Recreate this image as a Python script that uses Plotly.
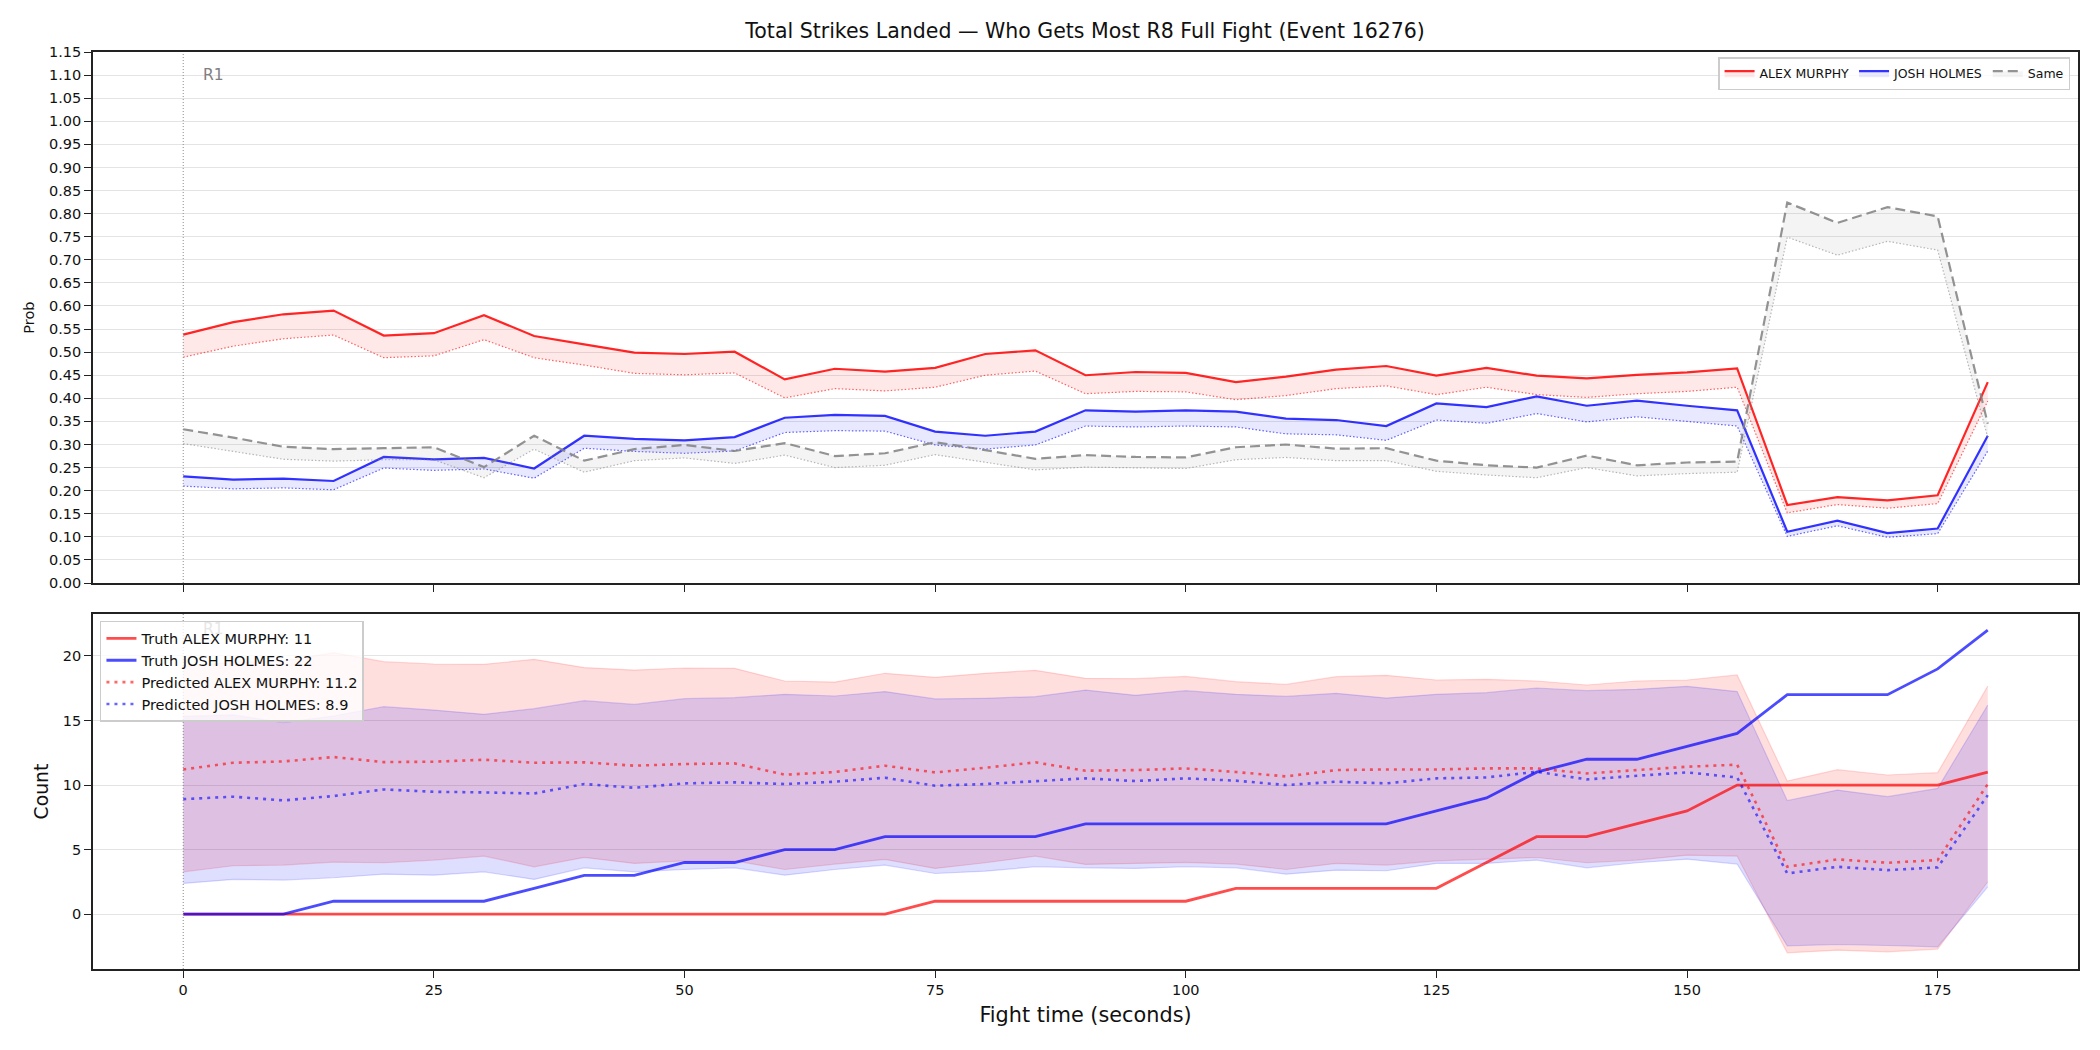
import plotly.graph_objects as go

# ---------------- data ----------------
fight_time = [0, 5, 10, 15, 20, 25, 30, 35, 40, 45, 50, 55, 60, 65, 70, 75, 80, 85, 90,
              95, 100, 105, 110, 115, 120, 125, 130, 135, 140, 145, 150, 155, 160, 165,
              170, 175, 180]

alex_prob = [0.538, 0.565, 0.582, 0.590, 0.536, 0.541, 0.580, 0.535, 0.517, 0.499, 0.496,
             0.501, 0.441, 0.464, 0.458, 0.466, 0.496, 0.504, 0.450, 0.457, 0.455, 0.435,
             0.447, 0.462, 0.470, 0.449, 0.466, 0.449, 0.443, 0.451, 0.456, 0.465, 0.169,
             0.186, 0.179, 0.190, 0.435]
alex_norm = [0.489, 0.513, 0.529, 0.537, 0.488, 0.492, 0.527, 0.488, 0.472, 0.454, 0.451,
             0.455, 0.401, 0.421, 0.416, 0.424, 0.450, 0.459, 0.410, 0.415, 0.414, 0.397,
             0.406, 0.421, 0.427, 0.408, 0.424, 0.408, 0.402, 0.410, 0.415, 0.424, 0.152,
             0.170, 0.162, 0.172, 0.394]
josh_prob = [0.231, 0.224, 0.226, 0.221, 0.273, 0.268, 0.271, 0.248, 0.319, 0.312, 0.309,
             0.316, 0.358, 0.364, 0.362, 0.328, 0.319, 0.328, 0.374, 0.371, 0.374, 0.371,
             0.356, 0.353, 0.340, 0.389, 0.381, 0.404, 0.384, 0.395, 0.384, 0.374, 0.111,
             0.135, 0.108, 0.118, 0.319]
josh_norm = [0.210, 0.204, 0.206, 0.202, 0.249, 0.244, 0.247, 0.227, 0.292, 0.285, 0.281,
             0.286, 0.326, 0.330, 0.329, 0.299, 0.290, 0.299, 0.340, 0.338, 0.340, 0.338,
             0.323, 0.321, 0.309, 0.353, 0.346, 0.367, 0.349, 0.360, 0.350, 0.340, 0.101,
             0.124, 0.099, 0.107, 0.286]
same_prob = [0.333, 0.315, 0.295, 0.290, 0.292, 0.294, 0.251, 0.319, 0.265, 0.290, 0.299,
             0.286, 0.303, 0.275, 0.281, 0.305, 0.288, 0.269, 0.277, 0.273, 0.272, 0.294,
             0.300, 0.291, 0.292, 0.265, 0.255, 0.250, 0.276, 0.255, 0.261, 0.263, 0.824,
             0.780, 0.814, 0.794, 0.345]
same_norm = [0.302, 0.285, 0.268, 0.264, 0.267, 0.267, 0.228, 0.290, 0.240, 0.265, 0.271,
             0.259, 0.277, 0.250, 0.255, 0.278, 0.261, 0.245, 0.251, 0.249, 0.248, 0.267,
             0.272, 0.265, 0.265, 0.242, 0.234, 0.228, 0.250, 0.232, 0.237, 0.240, 0.749,
             0.710, 0.740, 0.721, 0.315]

truth_alex = [0, 0, 0, 0, 0, 0, 0, 0, 0, 0, 0, 0, 0, 0, 0, 1, 1, 1, 1, 1, 1, 2, 2, 2, 2,
              2, 4, 6, 6, 7, 8, 10, 10, 10, 10, 10, 11]
truth_josh = [0, 0, 0, 1, 1, 1, 1, 2, 3, 3, 4, 4, 5, 5, 6, 6, 6, 6, 7, 7, 7, 7, 7, 7, 7,
              8, 9, 11, 12, 12, 13, 14, 17, 17, 17, 19, 22]
pred_alex = [11.21, 11.73, 11.83, 12.17, 11.78, 11.81, 11.96, 11.73, 11.76, 11.50, 11.63,
             11.68, 10.80, 11.01, 11.50, 10.98, 11.34, 11.76, 11.11, 11.16, 11.29, 11.01,
             10.67, 11.16, 11.21, 11.21, 11.29, 11.29, 10.90, 11.16, 11.42, 11.58, 3.67,
             4.24, 3.98, 4.19, 10.08]
pred_josh = [8.91, 9.10, 8.81, 9.15, 9.66, 9.48, 9.43, 9.35, 10.08, 9.79, 10.13, 10.21,
             10.08, 10.26, 10.57, 9.95, 10.08, 10.31, 10.52, 10.31, 10.52, 10.34, 10.00,
             10.26, 10.13, 10.52, 10.59, 11.03, 10.44, 10.72, 10.98, 10.59, 3.15, 3.67,
             3.41, 3.62, 9.22]
alex_lo = [3.28, 3.75, 3.80, 4.03, 3.98, 4.19, 4.50, 3.67, 4.39, 3.93, 4.13, 4.13, 3.46,
           3.88, 4.24, 3.54, 3.98, 4.50, 3.85, 3.93, 4.01, 3.88, 3.46, 3.93, 3.80, 4.13,
           4.24, 4.39, 3.98, 4.19, 4.57, 4.50, -3.00, -2.79, -2.92, -2.71, 2.51]
alex_hi = [19.2, 19.5, 19.6, 20.26, 19.56, 19.38, 19.35, 19.74, 19.10, 18.91, 19.07, 19.04,
           18.06, 17.98, 18.66, 18.35, 18.66, 18.89, 18.27, 18.24, 18.42, 18.01, 17.80,
           18.40, 18.50, 18.14, 18.19, 18.06, 17.75, 18.06, 18.14, 18.53, 10.31, 11.19,
           10.78, 10.96, 17.67]
josh_lo = [2.38, 2.69, 2.64, 2.82, 3.10, 3.02, 3.28, 2.69, 3.59, 3.28, 3.46, 3.59, 3.02,
           3.46, 3.80, 3.15, 3.33, 3.67, 3.59, 3.54, 3.67, 3.59, 3.10, 3.41, 3.36, 3.93,
           3.93, 4.19, 3.59, 3.98, 4.26, 3.88, -2.45, -2.35, -2.43, -2.53, 2.12]
josh_hi = [15.32, 15.43, 14.83, 15.35, 16.07, 15.81, 15.48, 15.92, 16.54, 16.25, 16.69,
           16.77, 17.03, 16.90, 17.24, 16.67, 16.72, 16.85, 17.36, 16.95, 17.31, 17.03,
           16.87, 17.11, 16.74, 17.03, 17.16, 17.52, 17.31, 17.42, 17.65, 17.24, 8.79,
           9.61, 9.10, 9.74, 16.20]

x_ticks = [0, 25, 50, 75, 100, 125, 150, 175]
prob_ticks = [0.00, 0.05, 0.10, 0.15, 0.20, 0.25, 0.30, 0.35, 0.40, 0.45, 0.50, 0.55, 0.60,
              0.65, 0.70, 0.75, 0.80, 0.85, 0.90, 0.95, 1.00, 1.05, 1.10, 1.15]
count_ticks = [0, 5, 10, 15, 20]

title_text = "Total Strikes Landed — Who Gets Most R8 Full Fight (Event 16276)"
fighter_a = "ALEX MURPHY"
fighter_b = "JOSH HOLMES"

FONT = "DejaVu Sans"
fig = go.Figure()

# ---------------- top panel ----------------
def band(lo, hi, line_col, dot_col, fill_col, name, dash_solid, width):
    fig.add_trace(go.Scatter(x=fight_time, y=lo, mode="lines", xaxis="x", yaxis="y",
                             line=dict(color=dot_col, width=1.2, dash="1.5px,2px"),
                             showlegend=False, hoverinfo="skip"))
    fig.add_trace(go.Scatter(x=fight_time, y=hi, mode="lines", xaxis="x", yaxis="y",
                             line=dict(color=line_col, width=width, dash=dash_solid),
                             fill="tonexty", fillcolor=fill_col,
                             name=name, legend="legend"))

band(alex_norm, alex_prob, "rgba(255,0,0,0.85)", "rgba(255,0,0,0.6)",
     "rgba(255,0,0,0.09)", fighter_a, "solid", 2.2)
band(josh_norm, josh_prob, "rgba(0,0,255,0.8)", "rgba(0,0,255,0.6)",
     "rgba(0,0,255,0.09)", fighter_b, "solid", 2.2)
band(same_norm, same_prob, "rgba(128,128,128,0.85)", "rgba(128,128,128,0.55)",
     "rgba(128,128,128,0.09)", "Same", "10px,5px", 2.2)

# ---------------- bottom panel ----------------
fig.add_trace(go.Scatter(x=fight_time, y=alex_lo, mode="lines", xaxis="x2", yaxis="y2",
                         line=dict(color="rgba(255,0,0,0.15)", width=1.2),
                         showlegend=False, hoverinfo="skip"))
fig.add_trace(go.Scatter(x=fight_time, y=alex_hi, mode="lines", xaxis="x2", yaxis="y2",
                         line=dict(color="rgba(255,0,0,0.15)", width=1.2),
                         fill="tonexty", fillcolor="rgba(255,0,0,0.13)",
                         showlegend=False, hoverinfo="skip"))
fig.add_trace(go.Scatter(x=fight_time, y=josh_lo, mode="lines", xaxis="x2", yaxis="y2",
                         line=dict(color="rgba(0,0,255,0.15)", width=1.2),
                         showlegend=False, hoverinfo="skip"))
fig.add_trace(go.Scatter(x=fight_time, y=josh_hi, mode="lines", xaxis="x2", yaxis="y2",
                         line=dict(color="rgba(0,0,255,0.15)", width=1.2),
                         fill="tonexty", fillcolor="rgba(0,0,255,0.13)",
                         showlegend=False, hoverinfo="skip"))

fig.add_trace(go.Scatter(x=fight_time, y=truth_alex, mode="lines", xaxis="x2", yaxis="y2",
                         line=dict(color="rgba(255,0,0,0.7)", width=2.8),
                         name=f"Truth {fighter_a}: {truth_alex[-1]}", legend="legend2"))
fig.add_trace(go.Scatter(x=fight_time, y=truth_josh, mode="lines", xaxis="x2", yaxis="y2",
                         line=dict(color="rgba(0,0,255,0.7)", width=2.8),
                         name=f"Truth {fighter_b}: {truth_josh[-1]}", legend="legend2"))
fig.add_trace(go.Scatter(x=fight_time, y=pred_alex, mode="lines", xaxis="x2", yaxis="y2",
                         line=dict(color="rgba(255,0,0,0.6)", width=2.6, dash="3px,5px"),
                         name=f"Predicted {fighter_a}: {pred_alex[0]:.1f}", legend="legend2"))
fig.add_trace(go.Scatter(x=fight_time, y=pred_josh, mode="lines", xaxis="x2", yaxis="y2",
                         line=dict(color="rgba(0,0,255,0.6)", width=2.6, dash="3px,5px"),
                         name=f"Predicted {fighter_b}: {pred_josh[0]:.1f}", legend="legend2"))

# ---------------- layout ----------------
axis_common = dict(showline=True, linecolor="#222", linewidth=1.6, mirror=True,
                   ticks="outside", ticklen=7, tickwidth=1.3, tickcolor="#222",
                   tickfont=dict(family=FONT, size=14.5, color="#111"), zeroline=False)

fig.update_layout(
    width=2100, height=1050,
    margin=dict(l=93, r=22, t=52, b=81),
    paper_bgcolor="white", plot_bgcolor="white",
    font=dict(family=FONT, color="#111"),
    title=dict(text=title_text, x=0.5167, xanchor="center", y=1 - 31 / 1050, yanchor="middle",
               xref="container", font=dict(family=FONT, size=20.5, color="#111")),
    xaxis=dict(domain=[0, 1], anchor="y", range=[-9, 189], tickvals=x_ticks,
               showticklabels=False, showgrid=False, matches="x2", **axis_common),
    yaxis=dict(domain=[0.4209, 1], anchor="x", range=[0, 1.15], tickvals=prob_ticks,
               tickformat=".2f", showgrid=True, gridcolor="#e4e4e4", gridwidth=1,
               title=dict(text="Prob", font=dict(family=FONT, size=14.5), standoff=11),
               **axis_common),
    xaxis2=dict(domain=[0, 1], anchor="y2", range=[-9, 189], tickvals=x_ticks,
                showgrid=False,
                title=dict(text="Fight time (seconds)", font=dict(family=FONT, size=20.8),
                           standoff=10),
                **axis_common),
    yaxis2=dict(domain=[0, 0.3871], anchor="x2", range=[-4.25, 23.25], tickvals=count_ticks,
                showgrid=True, gridcolor="#e4e4e4", gridwidth=1,
                title=dict(text="Count", font=dict(family=FONT, size=18.8), standoff=9),
                **axis_common),
    legend=dict(orientation="h", traceorder="normal", x=0.996, xanchor="right",
                y=0.9945, yanchor="top",
                font=dict(family=FONT, size=12.5, color="#111"),
                bgcolor="rgba(255,255,255,0.8)", bordercolor="#cccccc", borderwidth=1.5,
                itemwidth=30),
    legend2=dict(orientation="v", traceorder="normal", x=0.0035, xanchor="left",
                 y=0.3795, yanchor="top",
                 font=dict(family=FONT, size=14.5, color="#111"),
                 bgcolor="rgba(255,255,255,0.8)", bordercolor="#cccccc", borderwidth=1.5,
                 itemwidth=30),
    shapes=[
        dict(type="line", xref="x", yref="y domain", x0=0, x1=0, y0=0, y1=1,
             line=dict(color="#888", width=1, dash="1px,2px")),
        dict(type="line", xref="x2", yref="y2 domain", x0=0, x1=0, y0=0, y1=1,
             line=dict(color="#888", width=1, dash="1px,2px")),
    ],
    annotations=[
        dict(text="R1", xref="x", yref="y domain", x=1.8, y=0.957, xanchor="left",
             yanchor="middle", showarrow=False, font=dict(family=FONT, size=15.5, color="#808080")),
        dict(text="R1", xref="x2", yref="y2 domain", x=1.8, y=0.957, xanchor="left",
             yanchor="middle", showarrow=False, font=dict(family=FONT, size=15.5, color="#e6e6e6")),
    ],
)

fig.write_html("out.html")
